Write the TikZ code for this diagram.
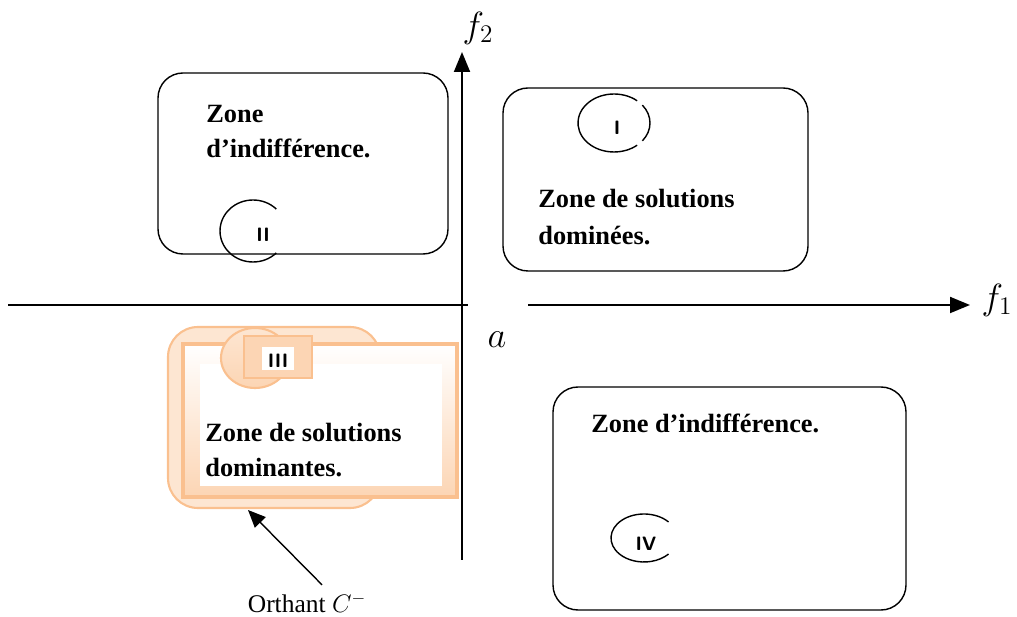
\documentclass[tikz,border=0pt]{standalone}
\usepackage{fontspec}
\setmainfont{Liberation Serif}
\usetikzlibrary{arrows.meta}
\definecolor{orline}{RGB}{250,192,143}
\definecolor{orfill}{RGB}{252,213,180}

\begin{document}
\begin{tikzpicture}[x=0.02cm, y=-0.02cm,
  zonebox/.style={rounded corners=5mm, line width=0.8pt},
  zonetxt/.style={inner sep=0pt, anchor=base west, font=\fontsize{15}{19}\selectfont\bfseries},
  numtxt/.style={inner sep=0pt, font=\sffamily\bfseries\fontsize{11}{13}\selectfont},
  axis/.style={line width=1.1pt},
  axlbl/.style={inner sep=0pt, font=\fontsize{20}{24}\selectfont}]
\useasboundingbox (0,0) rectangle (1017,617);

% axes
\coordinate (west) at (8,305);
\coordinate (gapl) at (468,305);
\coordinate (gapr) at (528,305);
\coordinate (east) at (970,305);
\coordinate (south) at (462,560);
\coordinate (north) at (462,52);
\draw[axis] (west) -- (gapl);
\draw[axis, -{Triangle[length=4mm, width=3.2mm]}] (gapr) -- (east);
\draw[axis, -{Triangle[length=4mm, width=3.2mm]}] (south) -- (north);
\node[axlbl] (f1) at (997,300) {$f_1$};
\node[axlbl] (f2) at (478,28) {$f_2$};
\node[axlbl] (a) at (497,340) {$a$};

% zone II (top left)
\draw[zonebox] (158,73) rectangle (448,254);
\node[zonetxt] (ztl) at (206,123) {Zone};
\node[zonetxt] (ztl2) at (206,158) {d’indifférence.};
\draw[line width=0.8pt] (253,231) ++(45:0.66cm and 0.62cm) arc[start angle=45, end angle=315, x radius=0.66cm, y radius=0.62cm];
\node[numtxt] (n2) at (263,235) {II};

% zone I (top right)
\draw[zonebox] (503,88) rectangle (808,271);
\draw[line width=0.8pt] (614,123) ++(50:0.72cm and 0.58cm) arc[start angle=50, end angle=310, x radius=0.72cm, y radius=0.58cm];
\draw[line width=0.8pt] (614,123) ++(-38:0.72cm and 0.58cm) arc[start angle=-38, end angle=38, x radius=0.72cm, y radius=0.58cm];
\node[numtxt] (n1) at (617,128) {I};
\node[zonetxt] (ztr) at (538,208) {Zone de solutions};
\node[zonetxt] (ztr2) at (538,245) {dominées.};

% zone IV (bottom right)
\draw[zonebox] (553,387) rectangle (906,610);
\node[zonetxt] (zbr) at (591,433) {Zone d’indifférence.};
\draw[line width=0.8pt] (644,538) ++(42:0.66cm and 0.48cm) arc[start angle=42, end angle=318, x radius=0.66cm, y radius=0.48cm];
\node[numtxt] (n4) at (646,544) {IV};

% zone III (bottom left), orthant
\draw[rounded corners=6mm, line width=1.2pt, draw=orline, fill=orfill!60] (168,327) rectangle (380,508);
\draw[line width=2pt, draw=orline, top color=white, bottom color=orfill] (183,344) rectangle (457,497);
\fill[white] (200,364) rectangle (442,486);
\draw[line width=1.2pt, draw=orline, top color=orfill!60, bottom color=orfill] (255,358) ellipse (0.68cm and 0.6cm);
\draw[line width=1.5pt, draw=orline, fill=orfill] (244,336) rectangle (312,378);
\fill[white] (262,347) rectangle (294,370);
\node[numtxt] (n3) at (278,361) {III};
\node[zonetxt] (zbl) at (205,442) {Zone de solutions};
\node[zonetxt] (zbl2) at (205,477) {dominantes.};

% label
\node[inner sep=0pt, font=\fontsize{14.5}{17}\selectfont] (orth) at (307,603) {Orthant $C^-$};
\coordinate (tip) at (248,510);
\draw[line width=0.8pt, -{Triangle[length=3.5mm, width=3mm]}] (orth.north) ++(15,-8) -- (tip);
\end{tikzpicture}
\end{document}
